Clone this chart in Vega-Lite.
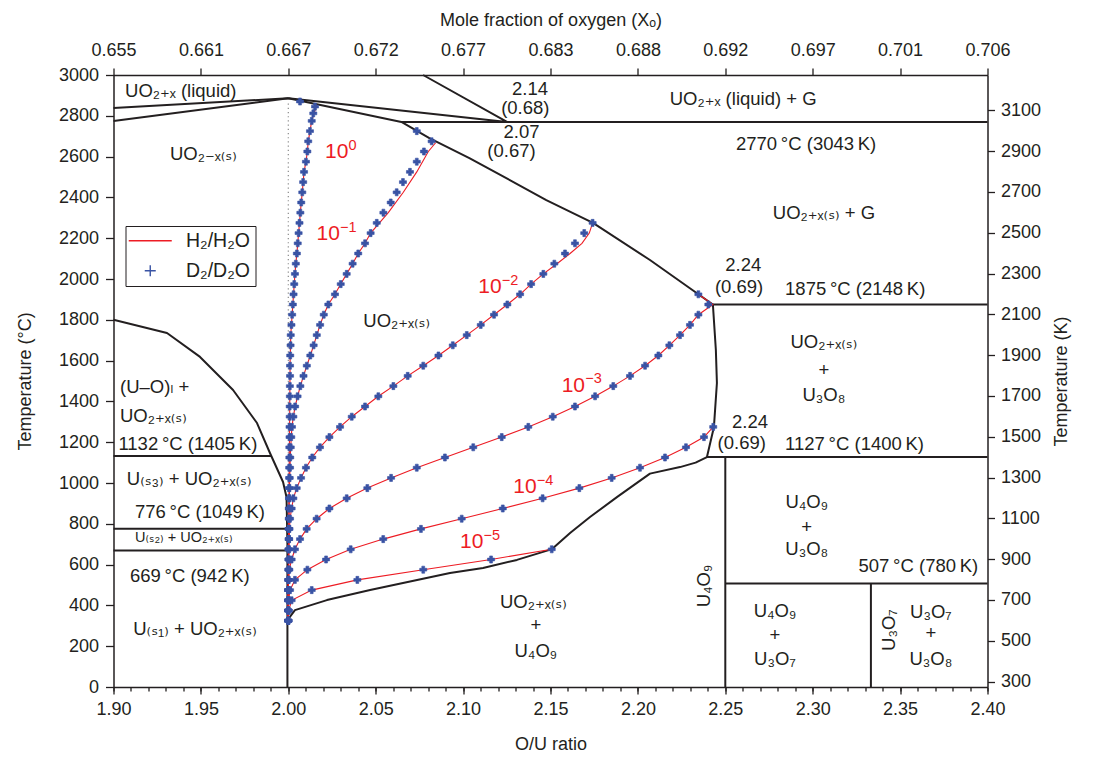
{
  "$schema": "https://vega.github.io/schema/vega-lite/v6.json",
  "width": 874,
  "height": 612,
  "autosize": {"type": "none"},
  "padding": {"left": 113.5, "top": 75, "right": 114.5, "bottom": 78},
  "background": "white",
  "config": {
    "view": {"stroke": null},
    "font": "Liberation Sans, DejaVu Sans",
    "axis": {
      "labelFont": "Liberation Sans, DejaVu Sans",
      "titleFont": "Liberation Sans, DejaVu Sans",
      "labelFontSize": 18,
      "titleFontSize": 18,
      "titleFontWeight": "normal",
      "labelColor": "#231f20",
      "titleColor": "#231f20",
      "domainColor": "#231f20",
      "tickColor": "#231f20",
      "domainWidth": 1.5,
      "tickWidth": 1.3,
      "grid": false,
      "labelFlush": false,
      "labelOverlap": false,
      "labelBound": false
    }
  },
  "datasets": {
    "bounds": [
      {"g": "a", "i": 0, "r": 1.9, "T": 2838}, {"g": "a", "i": 1, "r": 2.0, "T": 2886}, {"g": "a", "i": 2, "r": 2.1251, "T": 2770}, {"g": "a", "i": 3, "r": 2.0771, "T": 3000},
      {"g": "b", "i": 0, "r": 1.9, "T": 2775}, {"g": "b", "i": 1, "r": 2.0, "T": 2886},
      {"g": "e", "i": 0, "r": 2.0, "T": 2886}, {"g": "e", "i": 1, "r": 2.0647, "T": 2770}, {"g": "e", "i": 2, "r": 2.0807, "T": 2691}, {"g": "e", "i": 3, "r": 2.1036, "T": 2593}, {"g": "e", "i": 4, "r": 2.1476, "T": 2387}, {"g": "e", "i": 5, "r": 2.1743, "T": 2275}, {"g": "e", "i": 6, "r": 2.2069, "T": 2093}, {"g": "e", "i": 7, "r": 2.2429, "T": 1875},
      {"g": "e", "i": 8, "r": 2.2446, "T": 1652}, {"g": "e", "i": 9, "r": 2.2452, "T": 1490}, {"g": "e", "i": 10, "r": 2.2435, "T": 1275}, {"g": "e", "i": 11, "r": 2.2395, "T": 1127},
      {"g": "e", "i": 12, "r": 2.233, "T": 1100}, {"g": "e", "i": 13, "r": 2.2241, "T": 1078}, {"g": "e", "i": 14, "r": 2.2069, "T": 1046}, {"g": "e", "i": 15, "r": 2.188, "T": 931}, {"g": "e", "i": 16, "r": 2.1726, "T": 833}, {"g": "e", "i": 17, "r": 2.1612, "T": 755}, {"g": "e", "i": 18, "r": 2.1509, "T": 676}, {"g": "e", "i": 19, "r": 2.1308, "T": 623}, {"g": "e", "i": 20, "r": 2.1114, "T": 583}, {"g": "e", "i": 21, "r": 2.0925, "T": 559}, {"g": "e", "i": 22, "r": 2.0468, "T": 475}, {"g": "e", "i": 23, "r": 2.0221, "T": 426}, {"g": "e", "i": 24, "r": 2.0038, "T": 377}, {"g": "e", "i": 25, "r": 1.9995, "T": 328},
      {"g": "h", "i": 0, "r": 1.9, "T": 1800}, {"g": "h", "i": 1, "r": 1.9306, "T": 1735}, {"g": "h", "i": 2, "r": 1.9495, "T": 1618}, {"g": "h", "i": 3, "r": 1.9684, "T": 1456}, {"g": "h", "i": 4, "r": 1.9821, "T": 1294}, {"g": "h", "i": 5, "r": 1.9895, "T": 1147}, {"g": "h", "i": 6, "r": 1.997, "T": 1005}, {"g": "h", "i": 7, "r": 1.999, "T": 930}, {"g": "h", "i": 8, "r": 1.9995, "T": 700}, {"g": "h", "i": 9, "r": 1.9995, "T": 0},
      {"g": "i", "i": 0, "r": 1.9, "T": 1132}, {"g": "i", "i": 1, "r": 1.9903, "T": 1132},
      {"g": "j", "i": 0, "r": 1.9, "T": 776}, {"g": "j", "i": 1, "r": 1.9987, "T": 776},
      {"g": "k", "i": 0, "r": 1.9, "T": 669}, {"g": "k", "i": 1, "r": 1.9992, "T": 669},
      {"g": "l", "i": 0, "r": 2.0647, "T": 2770}, {"g": "l", "i": 1, "r": 2.4, "T": 2770},
      {"g": "m", "i": 0, "r": 2.2429, "T": 1875}, {"g": "m", "i": 1, "r": 2.4, "T": 1875},
      {"g": "n", "i": 0, "r": 2.2395, "T": 1127}, {"g": "n", "i": 1, "r": 2.4, "T": 1127},
      {"g": "o", "i": 0, "r": 2.25, "T": 1127}, {"g": "o", "i": 1, "r": 2.25, "T": 0},
      {"g": "p", "i": 0, "r": 2.25, "T": 507}, {"g": "p", "i": 1, "r": 2.4, "T": 507},
      {"g": "q", "i": 0, "r": 2.3333, "T": 507}, {"g": "q", "i": 1, "r": 2.3333, "T": 0}
    ],
    "stoich": [{"r": 2.0, "T": 2860}, {"r": 2.0, "T": 330}],
    "curves": [
      {"s": "0", "T": 2870, "r": 2.0067, "k": "d"}, {"s": "0", "T": 2853, "r": 2.0162, "k": "h"}, {"s": "0", "T": 2845, "r": 2.0153, "k": "d"}, {"s": "0", "T": 2812, "r": 2.0143, "k": "d"},
      {"s": "0", "T": 2775, "r": 2.0134}, {"s": "0", "T": 2725, "r": 2.0124}, {"s": "0", "T": 2675, "r": 2.0114}, {"s": "0", "T": 2625, "r": 2.0109}, {"s": "0", "T": 2575, "r": 2.0101}, {"s": "0", "T": 2525, "r": 2.009},
      {"s": "0", "T": 2475, "r": 2.0085}, {"s": "0", "T": 2425, "r": 2.008}, {"s": "0", "T": 2375, "r": 2.0074}, {"s": "0", "T": 2325, "r": 2.0069}, {"s": "0", "T": 2275, "r": 2.0064}, {"s": "0", "T": 2225, "r": 2.0059},
      {"s": "0", "T": 2175, "r": 2.0054}, {"s": "0", "T": 2125, "r": 2.0049}, {"s": "0", "T": 2075, "r": 2.0043}, {"s": "0", "T": 2025, "r": 2.0038}, {"s": "0", "T": 1975, "r": 2.0034}, {"s": "0", "T": 1925, "r": 2.003},
      {"s": "0", "T": 1875, "r": 2.0026}, {"s": "0", "T": 1825, "r": 2.0022}, {"s": "0", "T": 1775, "r": 2.0018}, {"s": "0", "T": 1725, "r": 2.0014}, {"s": "0", "T": 1675, "r": 2.0013}, {"s": "0", "T": 1625, "r": 2.0011},
      {"s": "0", "T": 1575, "r": 2.001}, {"s": "0", "T": 1525, "r": 2.001}, {"s": "0", "T": 1475, "r": 2.0009}, {"s": "0", "T": 1425, "r": 2.0009}, {"s": "0", "T": 1375, "r": 2.0008}, {"s": "0", "T": 1325, "r": 2.0008},
      {"s": "0", "T": 1275, "r": 2.0007}, {"s": "0", "T": 1225, "r": 2.0007}, {"s": "0", "T": 1175, "r": 2.0006}, {"s": "0", "T": 1125, "r": 2.0006}, {"s": "0", "T": 1075, "r": 2.0005}, {"s": "0", "T": 1025, "r": 2.0005},
      {"s": "0", "T": 975, "r": 2.0004}, {"s": "0", "T": 925, "r": 2.0004}, {"s": "0", "T": 875, "r": 2.0003}, {"s": "0", "T": 825, "r": 2.0003}, {"s": "0", "T": 775, "r": 2.0002}, {"s": "0", "T": 725, "r": 2.0002},
      {"s": "0", "T": 675, "r": 2.0001}, {"s": "0", "T": 625, "r": 2.0001}, {"s": "0", "T": 575, "r": 2.0001}, {"s": "0", "T": 525, "r": 2.0}, {"s": "0", "T": 475, "r": 2.0}, {"s": "0", "T": 425, "r": 2.0}, {"s": "0", "T": 375, "r": 2.0}, {"s": "0", "T": 325, "r": 2.0},

      {"s": "1", "T": 2725, "r": 2.0735, "k": "d"}, {"s": "1", "T": 2675, "r": 2.082, "k": "d"}, {"s": "1", "T": 2668, "r": 2.0843, "k": "h"}, {"s": "1", "T": 2625, "r": 2.0801, "k": "h"}, {"s": "1", "T": 2625, "r": 2.0776, "k": "d"},
      {"s": "1", "T": 2575, "r": 2.0735, "k": "d"}, {"s": "1", "T": 2525, "r": 2.0735, "k": "h"}, {"s": "1", "T": 2525, "r": 2.0696, "k": "d"}, {"s": "1", "T": 2475, "r": 2.0656, "k": "d"}, {"s": "1", "T": 2425, "r": 2.0658, "k": "h"},
      {"s": "1", "T": 2425, "r": 2.062, "k": "d"}, {"s": "1", "T": 2375, "r": 2.0586, "k": "d"}, {"s": "1", "T": 2325, "r": 2.0572, "k": "h"}, {"s": "1", "T": 2325, "r": 2.0544, "k": "d"}, {"s": "1", "T": 2275, "r": 2.0506, "k": "d"},
      {"s": "1", "T": 2225, "r": 2.0471}, {"s": "1", "T": 2175, "r": 2.0439}, {"s": "1", "T": 2125, "r": 2.04}, {"s": "1", "T": 2075, "r": 2.0368}, {"s": "1", "T": 2025, "r": 2.0334}, {"s": "1", "T": 1975, "r": 2.03},
      {"s": "1", "T": 1925, "r": 2.0267}, {"s": "1", "T": 1875, "r": 2.0229}, {"s": "1", "T": 1825, "r": 2.0203}, {"s": "1", "T": 1775, "r": 2.0182}, {"s": "1", "T": 1725, "r": 2.0163}, {"s": "1", "T": 1675, "r": 2.0145},
      {"s": "1", "T": 1625, "r": 2.0126}, {"s": "1", "T": 1575, "r": 2.0106}, {"s": "1", "T": 1525, "r": 2.0087}, {"s": "1", "T": 1475, "r": 2.0069}, {"s": "1", "T": 1425, "r": 2.0053}, {"s": "1", "T": 1375, "r": 2.0039},
      {"s": "1", "T": 1325, "r": 2.0029}, {"s": "1", "T": 1275, "r": 2.0021}, {"s": "1", "T": 1225, "r": 2.0017}, {"s": "1", "T": 1175, "r": 2.0014}, {"s": "1", "T": 1125, "r": 2.0011}, {"s": "1", "T": 1075, "r": 2.001},
      {"s": "1", "T": 1025, "r": 2.0008}, {"s": "1", "T": 975, "r": 2.0007}, {"s": "1", "T": 925, "r": 2.0006}, {"s": "1", "T": 875, "r": 2.0005}, {"s": "1", "T": 825, "r": 2.0004}, {"s": "1", "T": 775, "r": 2.0003},
      {"s": "1", "T": 725, "r": 2.0003}, {"s": "1", "T": 675, "r": 2.0002}, {"s": "1", "T": 625, "r": 2.0002}, {"s": "1", "T": 575, "r": 2.0001}, {"s": "1", "T": 525, "r": 2.0001}, {"s": "1", "T": 475, "r": 2.0},
      {"s": "1", "T": 425, "r": 2.0}, {"s": "1", "T": 375, "r": 2.0}, {"s": "1", "T": 325, "r": 2.0},

      {"s": "2", "T": 2275, "r": 2.1741}, {"s": "2", "T": 2225, "r": 2.1722, "k": "h"}, {"s": "2", "T": 2225, "r": 2.1693, "k": "d"}, {"s": "2", "T": 2175, "r": 2.168, "k": "h"}, {"s": "2", "T": 2175, "r": 2.164, "k": "d"},
      {"s": "2", "T": 2125, "r": 2.1612, "k": "h"}, {"s": "2", "T": 2125, "r": 2.1583, "k": "d"}, {"s": "2", "T": 2075, "r": 2.1537, "k": "h"}, {"s": "2", "T": 2075, "r": 2.1522, "k": "d"},
      {"s": "2", "T": 2025, "r": 2.1459}, {"s": "2", "T": 1975, "r": 2.1389}, {"s": "2", "T": 1925, "r": 2.1326}, {"s": "2", "T": 1875, "r": 2.1253}, {"s": "2", "T": 1825, "r": 2.1177}, {"s": "2", "T": 1775, "r": 2.1101},
      {"s": "2", "T": 1725, "r": 2.1021}, {"s": "2", "T": 1675, "r": 2.0941}, {"s": "2", "T": 1625, "r": 2.0859}, {"s": "2", "T": 1575, "r": 2.0772}, {"s": "2", "T": 1525, "r": 2.0683}, {"s": "2", "T": 1475, "r": 2.0601},
      {"s": "2", "T": 1425, "r": 2.0515}, {"s": "2", "T": 1375, "r": 2.0439}, {"s": "2", "T": 1325, "r": 2.0363}, {"s": "2", "T": 1275, "r": 2.0296}, {"s": "2", "T": 1225, "r": 2.0235}, {"s": "2", "T": 1175, "r": 2.0181},
      {"s": "2", "T": 1125, "r": 2.0137}, {"s": "2", "T": 1075, "r": 2.0101}, {"s": "2", "T": 1025, "r": 2.0073}, {"s": "2", "T": 975, "r": 2.0048}, {"s": "2", "T": 925, "r": 2.0029}, {"s": "2", "T": 875, "r": 2.0019},
      {"s": "2", "T": 825, "r": 2.001}, {"s": "2", "T": 775, "r": 2.0007}, {"s": "2", "T": 725, "r": 2.0005}, {"s": "2", "T": 675, "r": 2.0004}, {"s": "2", "T": 625, "r": 2.0003}, {"s": "2", "T": 575, "r": 2.0002},
      {"s": "2", "T": 525, "r": 2.0001}, {"s": "2", "T": 475, "r": 2.0}, {"s": "2", "T": 425, "r": 2.0}, {"s": "2", "T": 375, "r": 2.0}, {"s": "2", "T": 325, "r": 2.0},

      {"s": "3", "T": 1925, "r": 2.2346}, {"s": "3", "T": 1875, "r": 2.2429, "k": "h"}, {"s": "3", "T": 1875, "r": 2.2403, "k": "d"}, {"s": "3", "T": 1825, "r": 2.2346}, {"s": "3", "T": 1775, "r": 2.2298},
      {"s": "3", "T": 1725, "r": 2.2241}, {"s": "3", "T": 1675, "r": 2.218}, {"s": "3", "T": 1625, "r": 2.2117}, {"s": "3", "T": 1575, "r": 2.2041}, {"s": "3", "T": 1525, "r": 2.1955}, {"s": "3", "T": 1475, "r": 2.1859},
      {"s": "3", "T": 1425, "r": 2.1755}, {"s": "3", "T": 1375, "r": 2.164}, {"s": "3", "T": 1325, "r": 2.1513}, {"s": "3", "T": 1275, "r": 2.1373}, {"s": "3", "T": 1225, "r": 2.1221}, {"s": "3", "T": 1175, "r": 2.1058},
      {"s": "3", "T": 1125, "r": 2.0896}, {"s": "3", "T": 1075, "r": 2.0735}, {"s": "3", "T": 1025, "r": 2.0588}, {"s": "3", "T": 975, "r": 2.0452}, {"s": "3", "T": 925, "r": 2.0334}, {"s": "3", "T": 875, "r": 2.0235},
      {"s": "3", "T": 825, "r": 2.0162}, {"s": "3", "T": 775, "r": 2.0105}, {"s": "3", "T": 725, "r": 2.0067}, {"s": "3", "T": 675, "r": 2.0038}, {"s": "3", "T": 625, "r": 2.0019}, {"s": "3", "T": 575, "r": 2.0006},
      {"s": "3", "T": 525, "r": 2.0002}, {"s": "3", "T": 475, "r": 2.0}, {"s": "3", "T": 425, "r": 2.0}, {"s": "3", "T": 375, "r": 2.0}, {"s": "3", "T": 325, "r": 2.0},

      {"s": "4", "T": 1275, "r": 2.2431}, {"s": "4", "T": 1225, "r": 2.2378}, {"s": "4", "T": 1175, "r": 2.2275}, {"s": "4", "T": 1125, "r": 2.2155}, {"s": "4", "T": 1075, "r": 2.2012}, {"s": "4", "T": 1025, "r": 2.185},
      {"s": "4", "T": 975, "r": 2.1665}, {"s": "4", "T": 925, "r": 2.1455}, {"s": "4", "T": 875, "r": 2.1227}, {"s": "4", "T": 825, "r": 2.0992}, {"s": "4", "T": 775, "r": 2.0759}, {"s": "4", "T": 725, "r": 2.0543},
      {"s": "4", "T": 675, "r": 2.0357}, {"s": "4", "T": 625, "r": 2.0216}, {"s": "4", "T": 575, "r": 2.0109}, {"s": "4", "T": 525, "r": 2.0038}, {"s": "4", "T": 475, "r": 2.001}, {"s": "4", "T": 425, "r": 2.0002},
      {"s": "4", "T": 375, "r": 2.0}, {"s": "4", "T": 325, "r": 2.0},

      {"s": "5", "T": 675, "r": 2.1507}, {"s": "5", "T": 625, "r": 2.116}, {"s": "5", "T": 575, "r": 2.0772}, {"s": "5", "T": 525, "r": 2.0395}, {"s": "5", "T": 475, "r": 2.0134}, {"s": "5", "T": 425, "r": 2.0019},
      {"s": "5", "T": 375, "r": 2.0002}, {"s": "5", "T": 325, "r": 2.0}
    ],
    "annL": [
      {"t": "UO₂₊ₓ (liquid)", "r": 1.9066, "T": 2894},
      {"t": "UO₂₋ₓ₍ₛ₎", "r": 1.9323, "T": 2583},
      {"t": "UO₂₊ₓ (liquid) + G", "r": 2.2182, "T": 2853},
      {"t": "2770\u2009°C (3043\u2009K)", "r": 2.2561, "T": 2632},
      {"t": "UO₂₊ₓ₍ₛ₎ + G", "r": 2.2772, "T": 2294},
      {"t": "1875\u2009°C (2148\u2009K)", "r": 2.2842, "T": 1922},
      {"t": "1127\u2009°C (1400\u2009K)", "r": 2.2842, "T": 1162},
      {"t": "UO₂₊ₓ₍ₛ₎", "r": 2.0429, "T": 1766},
      {"t": "(U–O)ₗ +", "r": 1.9037, "T": 1440},
      {"t": "UO₂₊ₓ₍ₛ₎", "r": 1.9037, "T": 1300},
      {"t": "1132\u2009°C (1405\u2009K)", "r": 1.9028, "T": 1162},
      {"t": "U₍ₛ₃₎ + UO₂₊ₓ₍ₛ₎", "r": 1.9076, "T": 990},
      {"t": "776\u2009°C (1049\u2009K)", "r": 1.9123, "T": 827},
      {"t": "669\u2009°C (942\u2009K)", "r": 1.9094, "T": 516},
      {"t": "U₍ₛ₁₎ + UO₂₊ₓ₍ₛ₎", "r": 1.9113, "T": 255}
    ],
    "annS": [
      {"t": "U₍ₛ₂₎ + UO₂₊ₓ₍ₛ₎", "r": 1.9123, "T": 712}
    ],
    "annR": [
      {"t": "507\u2009°C (780\u2009K)", "r": 2.3947, "T": 564}
    ],
    "annC": [
      {"t": "2.14", "r": 2.1383, "T": 2900},
      {"t": "(0.68)", "r": 2.1356, "T": 2808},
      {"t": "2.07", "r": 2.1334, "T": 2689},
      {"t": "(0.67)", "r": 2.1277, "T": 2596},
      {"t": "2.24", "r": 2.2603, "T": 2040},
      {"t": "(0.69)", "r": 2.2579, "T": 1933},
      {"t": "2.24", "r": 2.2641, "T": 1272},
      {"t": "(0.69)", "r": 2.2594, "T": 1165},
      {"t": "UO₂₊ₓ₍ₛ₎", "r": 2.3064, "T": 1662},
      {"t": "+", "r": 2.3064, "T": 1526},
      {"t": "U₃O₈", "r": 2.3064, "T": 1402},
      {"t": "U₄O₉", "r": 2.2966, "T": 876},
      {"t": "+", "r": 2.2966, "T": 755},
      {"t": "U₃O₈", "r": 2.2966, "T": 647},
      {"t": "U₄O₉", "r": 2.2784, "T": 345},
      {"t": "+", "r": 2.2784, "T": 227},
      {"t": "U₃O₇", "r": 2.2784, "T": 108},
      {"t": "U₃O₇", "r": 2.3676, "T": 337},
      {"t": "+", "r": 2.3676, "T": 235},
      {"t": "U₃O₈", "r": 2.3676, "T": 108},
      {"t": "UO₂₊ₓ₍ₛ₎", "r": 2.1402, "T": 386},
      {"t": "+", "r": 2.1416, "T": 276},
      {"t": "U₄O₉", "r": 2.1416, "T": 149}
    ],
    "annV": [
      {"t": "U₄O₉", "r": 2.2381, "T": 495},
      {"t": "U₃O₇", "r": 2.3434, "T": 279}
    ],
    "pw": [
      {"sup": "0", "r": 2.021, "T": 2592},
      {"sup": "−1", "r": 2.0162, "T": 2191},
      {"sup": "−2", "r": 2.1087, "T": 1930},
      {"sup": "−3", "r": 2.1564, "T": 1448},
      {"sup": "−4", "r": 2.1287, "T": 950},
      {"sup": "−5", "r": 2.0982, "T": 680}
    ]
  },
  "layer": [
    {
      "data": {"name": "bounds"},
      "mark": {"type": "line", "color": "#231f20", "strokeWidth": 2, "strokeJoin": "round"},
      "encoding": {
        "x": {"field": "r", "type": "quantitative", "scale": {"domain": [1.9, 2.4], "nice": false, "zero": false},
          "axis": {"orient": "bottom", "values": [1.9, 1.95, 2, 2.05, 2.1, 2.15, 2.2, 2.25, 2.3, 2.35, 2.4], "format": ".2f", "title": "O/U ratio", "tickSize": 7, "labelPadding": 6, "titlePadding": 17}},
        "y": {"field": "T", "type": "quantitative", "scale": {"domain": [0, 3000], "nice": false, "zero": false},
          "axis": {"orient": "left", "values": [0, 200, 400, 600, 800, 1000, 1200, 1400, 1600, 1800, 2000, 2200, 2400, 2600, 2800, 3000], "format": "d", "title": "Temperature (°C)", "tickSize": 8, "labelPadding": 7, "titlePadding": 24}},
        "detail": {"field": "g"},
        "order": {"field": "i"}
      }
    },
    {
      "data": {"name": "stoich"},
      "mark": {"type": "line", "color": "#8a8a8a", "strokeWidth": 1.2, "strokeDash": [1.2, 3]},
      "encoding": {
        "x": {"field": "r", "type": "quantitative", "scale": {"domain": [1.9, 2.4], "nice": false, "zero": false},
          "axis": {"orient": "top", "values": [1.9, 1.95, 2, 2.05, 2.1, 2.15, 2.2, 2.25, 2.3, 2.35, 2.4], "labelExpr": "format(datum.value/(1+datum.value)+1e-9, '.3f')", "title": "Mole fraction of oxygen (Xₒ)", "tickSize": 7, "labelPadding": 9, "titlePadding": 12}},
        "y": {"field": "T", "type": "quantitative", "scale": {"domain": [0, 3000], "nice": false, "zero": false},
          "axis": {"orient": "right", "values": [26.85, 226.85, 426.85, 626.85, 826.85, 1026.85, 1226.85, 1426.85, 1626.85, 1826.85, 2026.85, 2226.85, 2426.85, 2626.85, 2826.85], "labelExpr": "format(datum.value+273.15, '.0f')", "title": "Temperature (K)", "titleAngle": 270, "tickSize": 7, "labelPadding": 6, "titlePadding": 30}}
      }
    },
    {
      "data": {"name": "curves"},
      "transform": [{"filter": "datum.k !== 'd'"}],
      "mark": {"type": "line", "strokeWidth": 1.1},
      "encoding": {
        "x": {"field": "r", "type": "quantitative", "scale": {"domain": [1.9, 2.4], "nice": false, "zero": false},
          "axis": {"orient": "bottom", "values": [1.9, 1.91, 1.92, 1.93, 1.94, 1.95, 1.96, 1.97, 1.98, 1.99, 2.0, 2.01, 2.02, 2.03, 2.04, 2.05, 2.06, 2.07, 2.08, 2.09, 2.1, 2.11, 2.12, 2.13, 2.14, 2.15, 2.16, 2.17, 2.18, 2.19, 2.2, 2.21, 2.22, 2.23, 2.24, 2.25, 2.26, 2.27, 2.28, 2.29, 2.3, 2.31, 2.32, 2.33, 2.34, 2.35, 2.36, 2.37, 2.38, 2.39, 2.4], "labels": false, "domain": false, "title": null, "tickSize": 4}},
        "y": {"field": "T", "type": "quantitative", "scale": {"domain": [0, 3000], "nice": false, "zero": false}, "axis": null},
        "detail": {"field": "s"},
        "order": {"field": "T"},
        "color": {"datum": "H₂/H₂O", "type": "nominal",
          "scale": {"domain": ["H₂/H₂O", "D₂/D₂O"], "range": ["#ed1c24", "#3953a4"]},
          "legend": {
            "title": null, "orient": "none", "legendX": 12, "legendY": 151, "direction": "vertical",
            "padding": 5, "rowPadding": 9, "strokeColor": "#231f20", "fillColor": "white",
            "symbolSize": 676, "symbolOffset": 10, "labelOffset": 26,
            "labelFont": "Liberation Sans, DejaVu Sans", "labelFontSize": 19.5, "labelColor": "#231f20", "labelLimit": 200,
            "encode": {
              "symbols": {"update": {
                "shape": {"signal": "datum.value === 'H₂/H₂O' ? 'stroke' : 'M-1,0H1M0,-1V1'"},
                "size": {"signal": "datum.value === 'H₂/H₂O' ? 1850 : 121"},
                "stroke": {"signal": "datum.value === 'H₂/H₂O' ? '#ed1c24' : '#3953a4'"},
                "strokeWidth": {"value": 1.4},
                "fill": {"value": "transparent"},
                "opacity": {"value": 1}
              }}
            }
          }
        }
      }
    },
    {
      "data": {"name": "curves"},
      "transform": [{"filter": "datum.k !== 'h'"}],
      "mark": {"type": "point", "shape": "cross", "filled": true, "size": 50, "opacity": 1, "stroke": "#3953a4", "strokeWidth": 0.6},
      "encoding": {
        "x": {"field": "r", "type": "quantitative", "scale": {"domain": [1.9, 2.4], "nice": false, "zero": false}, "axis": null},
        "y": {"field": "T", "type": "quantitative", "scale": {"domain": [0, 3000], "nice": false, "zero": false}, "axis": null},
        "color": {"datum": "D₂/D₂O", "type": "nominal"}
      }
    },
    {
      "data": {"name": "annL"},
      "mark": {"type": "text", "align": "left", "baseline": "alphabetic", "fontSize": 18.5, "color": "#231f20", "font": "Liberation Sans, DejaVu Sans"},
      "encoding": {
        "x": {"field": "r", "type": "quantitative", "scale": {"domain": [1.9, 2.4], "nice": false, "zero": false}, "axis": null},
        "y": {"field": "T", "type": "quantitative", "scale": {"domain": [0, 3000], "nice": false, "zero": false}, "axis": null},
        "text": {"field": "t"}
      }
    },
    {
      "data": {"name": "annS"},
      "mark": {"type": "text", "align": "left", "baseline": "alphabetic", "fontSize": 14.5, "color": "#231f20", "font": "Liberation Sans, DejaVu Sans"},
      "encoding": {
        "x": {"field": "r", "type": "quantitative", "scale": {"domain": [1.9, 2.4], "nice": false, "zero": false}, "axis": null},
        "y": {"field": "T", "type": "quantitative", "scale": {"domain": [0, 3000], "nice": false, "zero": false}, "axis": null},
        "text": {"field": "t"}
      }
    },
    {
      "data": {"name": "annR"},
      "mark": {"type": "text", "align": "right", "baseline": "alphabetic", "fontSize": 18.5, "color": "#231f20", "font": "Liberation Sans, DejaVu Sans"},
      "encoding": {
        "x": {"field": "r", "type": "quantitative", "scale": {"domain": [1.9, 2.4], "nice": false, "zero": false}, "axis": null},
        "y": {"field": "T", "type": "quantitative", "scale": {"domain": [0, 3000], "nice": false, "zero": false}, "axis": null},
        "text": {"field": "t"}
      }
    },
    {
      "data": {"name": "annC"},
      "mark": {"type": "text", "align": "center", "baseline": "alphabetic", "fontSize": 18.5, "color": "#231f20", "font": "Liberation Sans, DejaVu Sans"},
      "encoding": {
        "x": {"field": "r", "type": "quantitative", "scale": {"domain": [1.9, 2.4], "nice": false, "zero": false}, "axis": null},
        "y": {"field": "T", "type": "quantitative", "scale": {"domain": [0, 3000], "nice": false, "zero": false}, "axis": null},
        "text": {"field": "t"}
      }
    },
    {
      "data": {"name": "annV"},
      "mark": {"type": "text", "align": "center", "baseline": "middle", "angle": 270, "fontSize": 18.5, "color": "#231f20", "font": "Liberation Sans, DejaVu Sans"},
      "encoding": {
        "x": {"field": "r", "type": "quantitative", "scale": {"domain": [1.9, 2.4], "nice": false, "zero": false}, "axis": null},
        "y": {"field": "T", "type": "quantitative", "scale": {"domain": [0, 3000], "nice": false, "zero": false}, "axis": null},
        "text": {"field": "t"}
      }
    },
    {
      "data": {"name": "pw"},
      "mark": {"type": "text", "align": "left", "baseline": "alphabetic", "fontSize": 21, "color": "#ed1c24", "font": "Liberation Sans, DejaVu Sans"},
      "encoding": {
        "x": {"field": "r", "type": "quantitative", "scale": {"domain": [1.9, 2.4], "nice": false, "zero": false}, "axis": null},
        "y": {"field": "T", "type": "quantitative", "scale": {"domain": [0, 3000], "nice": false, "zero": false}, "axis": null},
        "text": {"value": "10"}
      }
    },
    {
      "data": {"name": "pw"},
      "mark": {"type": "text", "align": "left", "baseline": "alphabetic", "fontSize": 14.5, "dx": 23.5, "dy": -8.5, "color": "#ed1c24", "font": "Liberation Sans, DejaVu Sans"},
      "encoding": {
        "x": {"field": "r", "type": "quantitative", "scale": {"domain": [1.9, 2.4], "nice": false, "zero": false}, "axis": null},
        "y": {"field": "T", "type": "quantitative", "scale": {"domain": [0, 3000], "nice": false, "zero": false}, "axis": null},
        "text": {"field": "sup"}
      }
    }
  ],
  "resolve": {"axis": {"x": "independent", "y": "independent"}}
}
